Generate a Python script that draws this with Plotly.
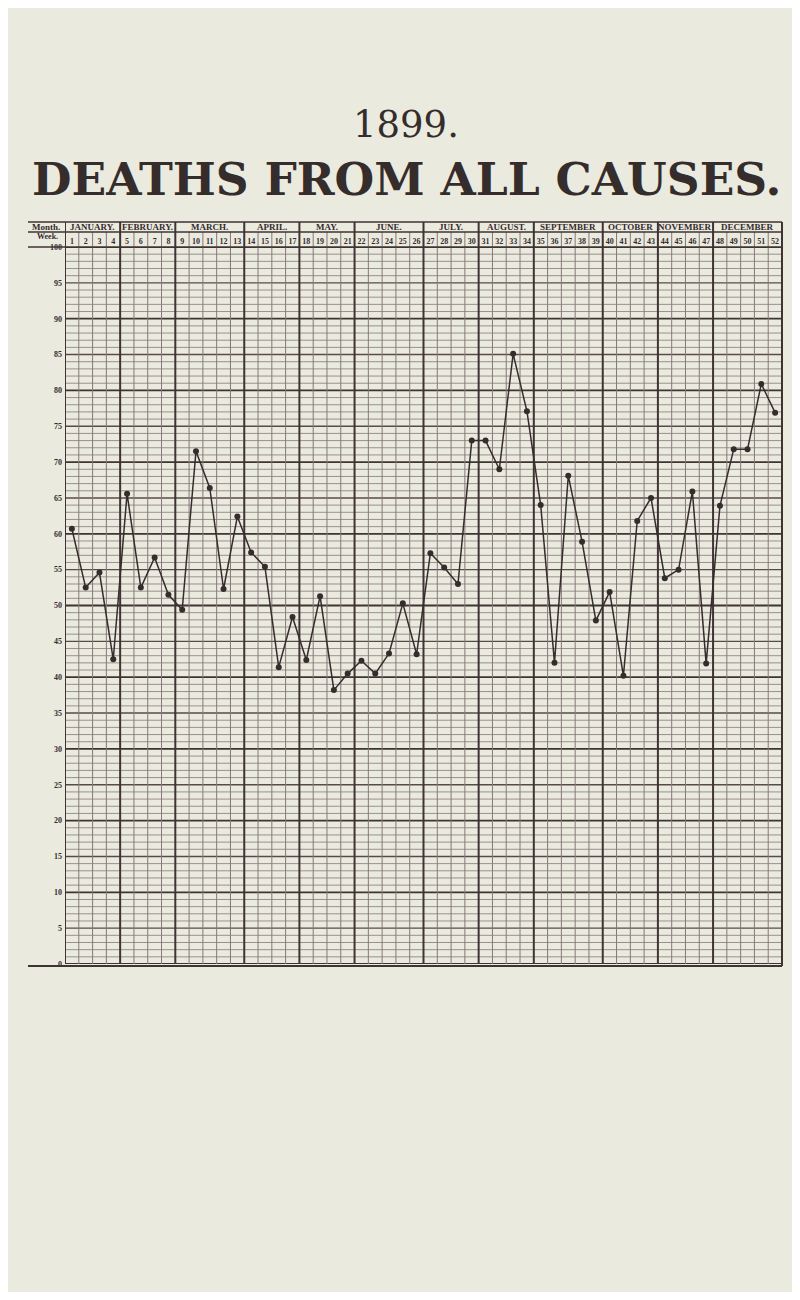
import plotly.graph_objects as go

# ---------------- data ----------------
weeks = list(range(1, 53))
deaths = [60.7, 52.5, 54.6, 42.5, 65.6, 52.5, 56.7, 51.5, 49.4, 71.5,
          66.4, 52.3, 62.4, 57.4, 55.4, 41.4, 48.4, 42.4, 51.3, 38.2,
          40.5, 42.3, 40.5, 43.3, 50.3, 43.2, 57.3, 55.3, 53.0, 73.0,
          73.0, 69.0, 85.1, 77.1, 64.0, 42.0, 68.1, 58.9, 47.9, 51.9,
          40.2, 61.8, 65.0, 53.8, 55.0, 65.9, 41.9, 63.9, 71.8, 71.8,
          80.9, 76.9]
months = ["JANUARY.", "FEBRUARY.", "MARCH.", "APRIL.", "MAY.", "JUNE.",
          "JULY.", "AUGUST.", "SEPTEMBER", "OCTOBER", "NOVEMBER", "DECEMBER"]
month_weeks = [4, 4, 5, 4, 4, 5, 4, 4, 5, 4, 4, 5]
ytick_vals = list(range(0, 101, 5))
title_year = "1899."
title_main = "DEATHS FROM ALL CAUSES."

# ---------------- layout constants ----------------
OFF = 8                       # default page body margin
W, H = 800 - 2 * OFF, 1300 - 2 * OFF
L = 65 - OFF
T = 247 - OFF
R = W - (782 - OFF)
B = H - (964 - OFF)
PH = H - T - B
PW = W - L - R
BG = "#ebeadf"
INK = "#352c2c"
GRID_MINOR = "#857878"
GRID_MID = "#584a4a"
GRID_MAJOR = "#3f3333"


def py(px):
    """page pixel y -> paper y"""
    return (H - B - (px - OFF)) / PH


def px_x(px):
    """page pixel x -> paper x"""
    return ((px - OFF) - L) / PW


fig = go.Figure()

shapes = []
# horizontal grid
for v in range(0, 101):
    if v % 10 == 0:
        col, w = GRID_MAJOR, 1.8
    elif v % 5 == 0:
        col, w = GRID_MID, 1.4
    else:
        col, w = GRID_MINOR, 0.8
    shapes.append(dict(type="line", xref="paper", yref="y", x0=0, x1=1,
                       y0=v, y1=v, line=dict(color=col, width=w), layer="below"))

# month boundaries
bounds = [0]
for n in month_weeks:
    bounds.append(bounds[-1] + n)
month_edges = set(bounds)

y_mid = py(232)
y_top = py(222)
for k in range(0, 53):
    xb = k + 0.5
    if k in month_edges:
        shapes.append(dict(type="line", xref="x", yref="paper", x0=xb, x1=xb,
                           y0=0, y1=y_top, line=dict(color=GRID_MAJOR, width=2),
                           layer="below"))
    else:
        shapes.append(dict(type="line", xref="x", yref="paper", x0=xb, x1=xb,
                           y0=0, y1=y_mid, line=dict(color=GRID_MINOR, width=1),
                           layer="below"))

# header frame
for yy, w in [(y_top, 1.6), (y_mid, 1.3), (1.0, 1.6)]:
    shapes.append(dict(type="line", xref="paper", yref="paper", x0=px_x(28), x1=1,
                       y0=yy, y1=yy, line=dict(color=GRID_MAJOR, width=w)))
shapes.append(dict(type="line", xref="paper", yref="paper", x0=px_x(28), x1=1,
                   y0=py(966), y1=py(966), line=dict(color=GRID_MAJOR, width=1.8)))
shapes.append(dict(type="line", xref="paper", yref="paper", x0=1, x1=1,
                   y0=py(966), y1=y_top, line=dict(color=GRID_MAJOR, width=2)))

fig.add_trace(go.Scatter(
    x=weeks, y=deaths, mode="lines+markers",
    line=dict(color=INK, width=1.5),
    marker=dict(color=INK, size=6),
    showlegend=False, hoverinfo="x+y"))

annotations = []
# month labels
start = 0
for name, n in zip(months, month_weeks):
    cx = start + (n + 1) / 2
    annotations.append(dict(text=name, x=cx, xref="x", y=(y_top + y_mid) / 2,
                            yref="paper", showarrow=False, xanchor="center",
                            yanchor="middle",
                            font=dict(family="Liberation Serif", size=9,
                                      color=INK, weight="bold")))
    start += n

annotations.append(dict(text="Month.", x=px_x(46), xref="paper", y=(y_top + y_mid) / 2,
                        yref="paper", showarrow=False, xanchor="center", yanchor="middle",
                        font=dict(family="Liberation Serif", size=9, color=INK, weight="bold")))
annotations.append(dict(text="Week.", x=px_x(47), xref="paper", y=py(236),
                        yref="paper", showarrow=False, xanchor="center", yanchor="middle",
                        font=dict(family="Liberation Serif", size=8, color=INK, weight="bold")))

annotations.append(dict(text=title_year, x=px_x(406), xref="paper", y=py(125), yref="paper",
                        showarrow=False, xanchor="center", yanchor="middle",
                        font=dict(family="DejaVu Serif", size=37, color=INK)))
annotations.append(dict(text=title_main, x=px_x(406), xref="paper", y=py(179), yref="paper",
                        showarrow=False, xanchor="center", yanchor="middle",
                        font=dict(family="DejaVu Serif", size=45.5, color=INK, weight="bold")))

fig.update_layout(
    width=W, height=H, autosize=False,
    margin=dict(l=L, r=R, t=T, b=B, pad=0),
    paper_bgcolor=BG, plot_bgcolor=BG,
    shapes=shapes, annotations=annotations,
    xaxis=dict(range=[0.5, 52.5], side="top", tickmode="array",
               tickvals=weeks, ticktext=[str(w) for w in weeks],
               showgrid=False, zeroline=False, ticks="", showline=False,
               tickfont=dict(family="Liberation Serif", size=8, color=INK, weight="bold"),
               tickangle=0, fixedrange=True),
    yaxis=dict(range=[0, 100], tickmode="array", tickvals=ytick_vals,
               ticktext=[str(v) for v in ytick_vals],
               showgrid=False, zeroline=False, ticks="", showline=False,
               tickfont=dict(family="Liberation Serif", size=8, color=INK, weight="bold"),
               ticklabelstandoff=2, fixedrange=True),
)

fig.write_html("out.html")
